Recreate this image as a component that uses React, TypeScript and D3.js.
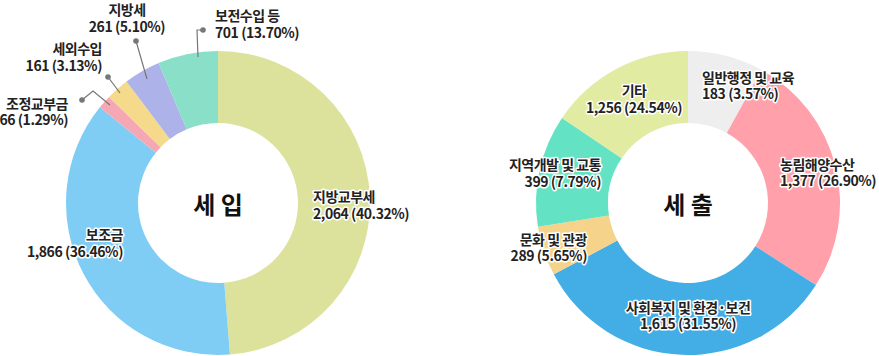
import React from "react";
import * as d3 from "d3";

// ---------- data ----------
const revenueCategories = ["지방교부세", "보조금", "조정교부금", "세외수입", "지방세", "보전수입 등"];
const revenueValues = [2064, 1866, 66, 161, 261, 701];
const revenuePercents = ["40.32%", "36.46%", "1.29%", "3.13%", "5.10%", "13.70%"];
// slice sizes as drawn in the reference (degrees of arc)
const revenueDrawnShares = [175.5, 133.5, 5.2, 8.8, 14, 23];
const revenueColors = ["#DCE29B", "#7FCDF5", "#F5A8B3", "#F5DA8C", "#ADB3E8", "#8ADFC8"];

const expenseCategories = ["일반행정 및 교육", "농림해양수산", "사회복지 및 환경·보건", "문화 및 관광", "지역개발 및 교통", "기타"];
const expenseValues = [183, 1377, 1615, 289, 399, 1256];
const expensePercents = ["3.57%", "26.90%", "31.55%", "5.65%", "7.79%", "24.54%"];
const expenseDrawnShares = [29, 93.7, 119.3, 19, 43, 56];
const expenseColors = ["#EEEEEE", "#FFA0AA", "#42AEE5", "#F5D38A", "#63E3C3", "#E1EBA2"];

const titles = ["세 입", "세 출"];

// ---------- layout ----------
const W = 879;
const H = 356;
const R_OUT = 152;
const R_IN = 80;
const LINE_GAP = 16.8;

type LabelLayout = {
  dx: number;
  dy: number;
  anchor: "start" | "middle" | "end";
  leader?: [number, number][]; // from slice point to dot (last point gets dot)
};

const revenueLayout: LabelLayout[] = [
  { dx: 95, dy: -7, anchor: "start" },
  { dx: -95, dy: 31, anchor: "end" },
  { dx: -150, dy: -100.5, anchor: "end", leader: [[-108, -98], [-125, -112], [-136, -103]] },
  { dx: -116, dy: -155, anchor: "end", leader: [[-98, -110], [-110, -126]] },
  { dx: -91, dy: -194, anchor: "middle", leader: [[-71, -124], [-82, -162]] },
  { dx: -3, dy: -188, anchor: "start", leader: [[-20, -146], [-21, -173], [-15, -173]] },
];

const expenseLayout: LabelLayout[] = [
  { dx: 14, dy: -126.5, anchor: "start" },
  { dx: 92, dy: -39.5, anchor: "start" },
  { dx: 0, dy: 103.5, anchor: "middle" },
  { dx: -101, dy: 35.5, anchor: "end" },
  { dx: -87, dy: -39, anchor: "end" },
  { dx: -54, dy: -113, anchor: "middle" },
];

const FONT = "'Noto Sans CJK KR', 'Noto Sans', sans-serif";

type DonutProps = {
  cx: number;
  cy: number;
  title: string;
  categories: string[];
  values: number[];
  percents: string[];
  shares: number[];
  colors: string[];
  layout: LabelLayout[];
};

function Donut({ cx, cy, title, categories, values, percents, shares, colors, layout }: DonutProps) {
  const pie = d3
    .pie<number>()
    .sort(null)
    .value((d) => d)
    .startAngle(0)
    .endAngle(2 * Math.PI);
  const arcs = pie(shares);
  const arc = d3.arc<d3.PieArcDatum<number>>().innerRadius(R_IN).outerRadius(R_OUT);
  const fmt = d3.format(",");
  const line = d3.line();

  return (
    <g transform={`translate(${cx},${cy})`}>
      {arcs.map((a, i) => (
        <path key={i} d={arc(a) || ""} fill={colors[i]} />
      ))}
      {layout.map((l, i) =>
        l.leader ? (
          <g key={"ld" + i}>
            <path d={line(l.leader) || ""} fill="none" stroke="#777" strokeWidth={1.2} />
            <circle
              cx={l.leader[l.leader.length - 1][0]}
              cy={l.leader[l.leader.length - 1][1]}
              r={2.8}
              fill="#777"
            />
          </g>
        ) : null
      )}
      {layout.map((l, i) => {
        const lines = [categories[i], `${fmt(values[i])} (${percents[i]})`];
        return (
          <text
            key={"lb" + i}
            textAnchor={l.anchor}
            dominantBaseline="central"
            fontFamily={FONT}
            fontSize={14}
            fontWeight={600}
            fill="#222"
            stroke="#fff"
            strokeWidth={3}
            strokeLinejoin="round"
            paintOrder="stroke"
          >
            {lines.map((t, j) => (
              <tspan
                key={j}
                x={l.dx}
                y={l.dy + j * LINE_GAP}
                letterSpacing={j === 0 ? -0.5 : -0.45}
              >
                {t}
              </tspan>
            ))}
          </text>
        );
      })}
      <text
        x={0}
        y={0}
        textAnchor="middle"
        dominantBaseline="central"
        fontFamily={FONT}
        fontSize={24}
        fontWeight={700}
        fill="#111"
      >
        {title}
      </text>
    </g>
  );
}

export default function App() {
  return (
    <svg
      width={W}
      height={H}
      viewBox={`0 0 ${W} ${H}`}
      style={{ position: "absolute", left: 0, top: 0, background: "#fff" }}
    >
      <rect x={0} y={0} width={W} height={H} fill="#fff" />
      <Donut
        cx={218}
        cy={203}
        title={titles[0]}
        categories={revenueCategories}
        values={revenueValues}
        percents={revenuePercents}
        shares={revenueDrawnShares}
        colors={revenueColors}
        layout={revenueLayout}
      />
      <Donut
        cx={688}
        cy={203}
        title={titles[1]}
        categories={expenseCategories}
        values={expenseValues}
        percents={expensePercents}
        shares={expenseDrawnShares}
        colors={expenseColors}
        layout={expenseLayout}
      />
    </svg>
  );
}
